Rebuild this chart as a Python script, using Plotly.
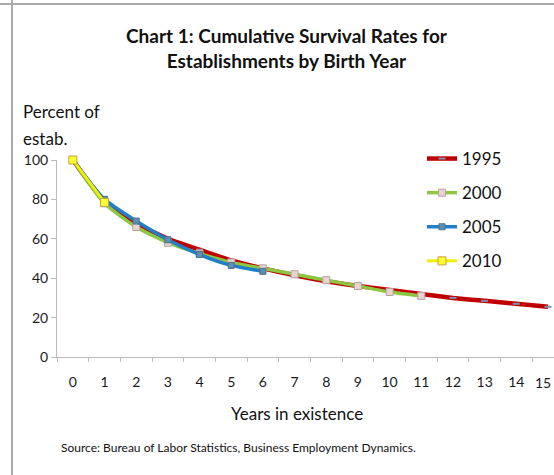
import plotly.graph_objects as go

years = list(range(16))
s1995 = [100, 79, 68, 60, 54.5, 49, 45, 41.5, 38.5, 36, 34, 32, 30, 28.5, 27, 25.5]
s2000 = [100, 78, 66, 58, 52.5, 48, 45, 42, 39, 36, 33, 31]
s2005 = [100, 80, 69, 59.5, 52, 46.5, 43.5]
s2010 = [100, 78.5]
x_ticks = list(range(16))
y_ticks = [0, 20, 40, 60, 80, 100]

FONT = "Lato"
W, H = 554, 475
# page coords of plot area: left 57, top 160, bottom 357, right 554
L, R, T = 57, 0, 160
B = H - 357
pw, ph = W - L - R, H - T - B


def px(x):  # page x -> paper
    return (x - L) / pw


def py(y):  # page y -> paper
    return (H - B - y) / ph


fig = go.Figure()
fig.add_trace(go.Scatter(x=years[:len(s1995)], y=s1995, name="1995", mode="lines+markers",
                         line=dict(color="#C00000", width=4.5, shape="spline", smoothing=0.6),
                         marker=dict(symbol="line-ew", size=5, line=dict(color="#7F8FB0", width=2)),
                         legendgroup="a", cliponaxis=False))
fig.add_trace(go.Scatter(x=years[:len(s2000)], y=s2000, name="2000", mode="lines+markers",
                         line=dict(color="#8DC63F", width=3.5, shape="spline", smoothing=0.6),
                         marker=dict(symbol="square", size=7, color="#E8D4D0", line=dict(color="#B8A0A0", width=1)),
                         legendgroup="b", cliponaxis=False))
fig.add_trace(go.Scatter(x=years[:len(s2005)], y=s2005, name="2005", mode="lines+markers",
                         line=dict(color="#1F7FC8", width=3.5, shape="spline", smoothing=0.6),
                         marker=dict(symbol="square", size=6, color="#5A8FB8", line=dict(color="#50707F", width=1)),
                         legendgroup="c", cliponaxis=False))
fig.add_trace(go.Scatter(x=years[:len(s2010)], y=s2010, name="2010", mode="lines+markers",
                         line=dict(color="#F0F000", width=3, shape="spline"),
                         marker=dict(symbol="square", size=8, color="#FFFF30", line=dict(color="#C8A040", width=1)),
                         legendgroup="d", cliponaxis=False))

x_per_unit = (548 - 73) / 15
shown_ticks = x_ticks[:-1]
fig.update_layout(
    width=W, height=H,
    margin=dict(l=L, r=R, t=T, b=B, autoexpand=False),
    paper_bgcolor="white", plot_bgcolor="white",
    font=dict(family=FONT, color="#222222", size=14),
    showlegend=True,
    legend=dict(x=px(422), y=py(141), xanchor="left", yanchor="top",
                font=dict(size=17, color="#111111"), tracegroupgap=9,
                itemwidth=30, bgcolor="rgba(0,0,0,0)"),
    xaxis=dict(range=[-0.5, (554 - 73) / x_per_unit], tickmode="array", tickvals=shown_ticks,
               ticktext=[str(v) for v in shown_ticks], ticks="", showgrid=False, zeroline=False,
               showline=True, linecolor="#BBBBBB", linewidth=1,
               tickfont=dict(size=14, color="#1A1A1A"), ticklabelstandoff=12,
               minor=dict(tickvals=[v - 0.5 for v in range(17)], ticks="outside", ticklen=4,
                          tickcolor="#BBBBBB", showgrid=False)),
    yaxis=dict(range=[0, 100], tickmode="array", tickvals=y_ticks, ticks="outside", ticklen=5,
               tickcolor="#BBBBBB", showgrid=False, zeroline=False, showline=True,
               linecolor="#BBBBBB", linewidth=1, tickfont=dict(size=14, color="#1A1A1A")),
)

ann = [
    dict(text="<b>Chart 1: Cumulative Survival Rates for<br>Establishments by Birth Year</b>",
         x=px(287), y=py(48), font=dict(size=19, color="#111111"), xanchor="center", yanchor="middle"),
    dict(text="Percent of", x=px(21), y=py(112), font=dict(size=17, color="#111111"), xanchor="left", yanchor="middle"),
    dict(text="estab.", x=px(21), y=py(138), font=dict(size=17, color="#111111"), xanchor="left", yanchor="middle"),
    dict(text="Years in existence", x=px(297), y=py(413), font=dict(size=17, color="#111111"), xanchor="center", yanchor="middle"),
    dict(text="Source: Bureau of Labor Statistics, Business Employment Dynamics.", x=px(59), y=py(447),
         font=dict(size=12, color="#111111"), xanchor="left", yanchor="middle"),
    dict(text=str(x_ticks[-1]), x=px(553), xanchor="right", y=py(382), yanchor="middle",
         font=dict(size=14, color="#1A1A1A")),
]
for a in ann:
    a.update(xref="paper", yref="paper", showarrow=False)
    fig.add_annotation(**a)

fig.add_shape(type="line", xref="paper", yref="paper", x0=px(12), x1=px(12), y0=py(0), y1=py(475),
              line=dict(color="#AAAAAA", width=2))
fig.add_shape(type="line", xref="paper", yref="paper", x0=px(0), x1=px(554), y0=py(4), y1=py(4),
              line=dict(color="#AAAAAA", width=2))

fig.write_html("out.html", config={"displayModeBar": False},
               post_script="document.body.style.margin='0';document.body.style.overflow='hidden';")
